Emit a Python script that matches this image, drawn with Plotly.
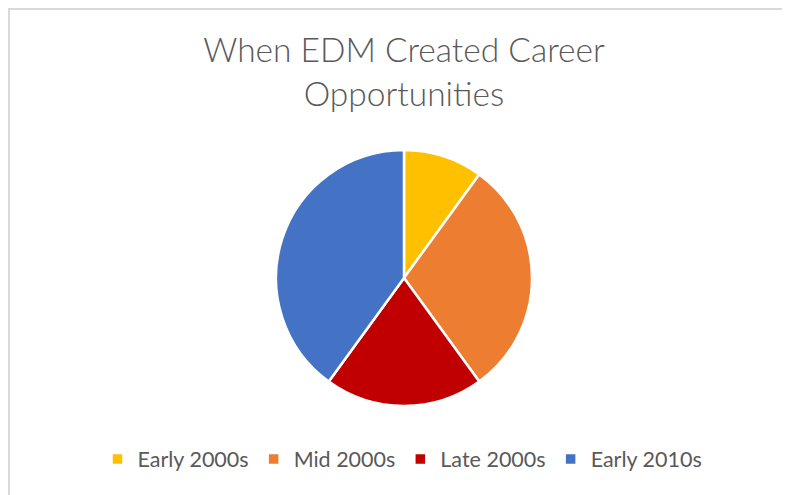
import plotly.graph_objects as go

labels = ["Early 2000s", "Mid 2000s", "Late 2000s", "Early 2010s"]
values = [10, 30, 20, 40]
colors = ["#FFC000", "#ED7D31", "#C00000", "#4472C4"]

W, H = 790, 495
OFF = 8  # page body margin
cx, cy, r = 404 - OFF, 278 - OFF, 128

fig = go.Figure(go.Pie(
    labels=labels,
    values=values,
    sort=False,
    direction="clockwise",
    rotation=0,
    textinfo="none",
    hoverinfo="label+value+percent",
    marker=dict(colors=colors, line=dict(color="white", width=2.5)),
    domain=dict(x=[(cx - r) / W, (cx + r) / W], y=[(H - cy - r) / H, (H - cy + r) / H]),
))

fig.update_layout(
    width=W, height=H,
    margin=dict(l=0, r=0, t=0, b=0),
    paper_bgcolor="white",
    plot_bgcolor="white",
    font=dict(family="Lato, Calibri, sans-serif", color="#595959"),
    title=dict(
        text="When EDM Created Career<br>Opportunities",
        x=(404 - OFF) / W, xanchor="center",
        y=1 - 54 / H, yanchor="middle",
        font=dict(size=33.5, color="#595959", family="Lato, sans-serif", weight=300),
    ),
    legend=dict(
        orientation="h",
        x=(409 - 6.5 - OFF) / W, xanchor="center",
        y=(H - 451) / H, yanchor="middle",
        font=dict(size=21.5, color="#595959"),
        itemwidth=30,
        bgcolor="rgba(0,0,0,0)",
    ),
    shapes=[
        dict(type="line", xref="paper", yref="paper", x0=1 / W, x1=1 / W, y0=0, y1=1,
             line=dict(color="#D9D9D9", width=2)),
        dict(type="line", xref="paper", yref="paper", x0=0, x1=1, y0=1 - 1 / H, y1=1 - 1 / H,
             line=dict(color="#D9D9D9", width=2)),
    ],
)

fig.write_html("out.html")
